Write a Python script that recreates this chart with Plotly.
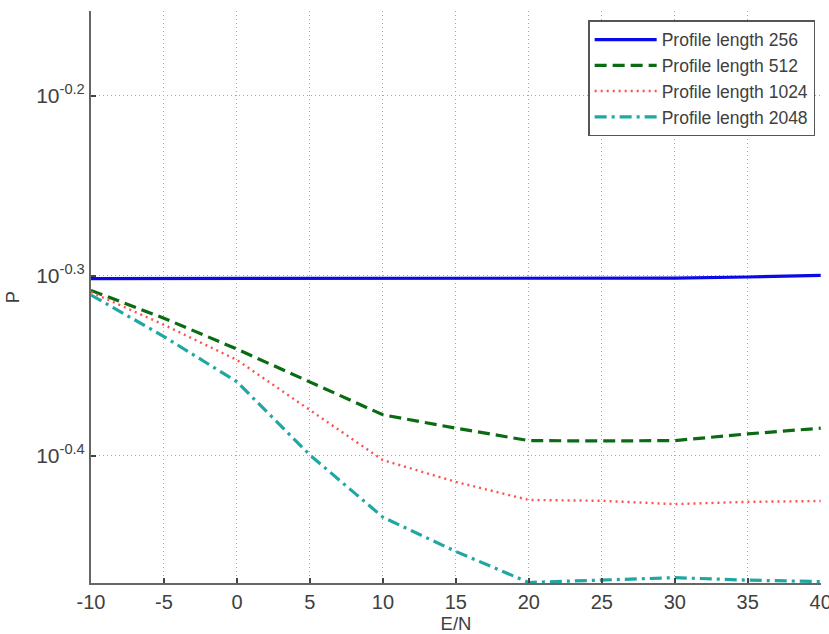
import plotly.graph_objects as go

x_vals = [-10, -5, 0, 5, 10, 15, 20, 25, 30, 35, 40]
p_256 = [0.4995, 0.4995, 0.4996, 0.4996, 0.4997, 0.4997, 0.4997, 0.4996, 0.4998, 0.5005, 0.5015]
p_512 = [0.4920, 0.4748, 0.4564, 0.4377, 0.4196, 0.4125, 0.4060, 0.4058, 0.4060, 0.4095, 0.4125]
p_1024 = [0.4909, 0.4708, 0.4501, 0.4222, 0.3960, 0.3851, 0.3763, 0.3759, 0.3743, 0.3754, 0.3758]
p_2048 = [0.4891, 0.4638, 0.4377, 0.3986, 0.3681, 0.3523, 0.3386, 0.3396, 0.3407, 0.3396, 0.3390]

series_names = ["Profile length 256", "Profile length 512", "Profile length 1024", "Profile length 2048"]
x_ticks = [-10, -5, 0, 5, 10, 15, 20, 25, 30, 35, 40]
y_tick_vals = [10 ** -0.4, 10 ** -0.3, 10 ** -0.2]
y_tick_text = ["10<sup>-0.4</sup>", "10<sup>-0.3</sup>", "10<sup>-0.2</sup>"]

styles = [
    dict(color="#0a0ae6", width=3.2, dash="solid"),
    dict(color="#0b6b12", width=3.2, dash="12px,6px"),
    dict(color="#ff5050", width=2.4, dash="2px,4px"),
    dict(color="#1fa7a3", width=3.2, dash="12px,5px,3px,5px"),
]

fig = go.Figure()
for name, ys, st in zip(series_names, [p_256, p_512, p_1024, p_2048], styles):
    fig.add_trace(go.Scatter(x=x_vals, y=ys, mode="lines", name=name, line=st))

font_family = "Liberation Sans, Arial, sans-serif"
fig.update_layout(
    width=829, height=634,
    margin=dict(l=91, r=8, t=11, b=51, autoexpand=False),
    paper_bgcolor="white", plot_bgcolor="white",
    font=dict(family=font_family, size=20, color="#404040"),
    showlegend=True,
    legend=dict(
        x=0.992, y=0.984, xanchor="right", yanchor="top",
        bgcolor="white", bordercolor="#555555", borderwidth=1.5,
        font=dict(size=17.5, color="#404040"),
        tracegroupgap=0, itemwidth=62,
    ),
)
fig.update_xaxes(
    range=[-10, 40.02], tickvals=x_ticks, ticktext=[str(v) for v in x_ticks],
    showline=True, linecolor="#666666", linewidth=2,
    ticks="inside", ticklen=5, tickcolor="#444444", tickwidth=1.5,
    showgrid=True, gridcolor="#a8a8a8", griddash="1px,3px", gridwidth=1,
    zeroline=False, mirror=False, ticklabeloverflow="allow", automargin=False,
    tickfont=dict(size=20),
    title=dict(text="E/N", font=dict(size=18.5, color="#404040"), standoff=8),
)
fig.update_yaxes(
    type="log", range=[-0.4706, -0.1528],
    tickvals=y_tick_vals, ticktext=y_tick_text,
    showline=True, linecolor="#666666", linewidth=2,
    ticks="inside", ticklen=5, tickcolor="#444444", tickwidth=1.5,
    showgrid=True, gridcolor="#a8a8a8", griddash="1px,3px", gridwidth=1,
    zeroline=False, mirror=False, ticklabeloverflow="allow", automargin=False,
    tickfont=dict(size=21),
    title=dict(text="P", font=dict(size=18.5, color="#404040"), standoff=12),
)

fig.write_html("out.html")
